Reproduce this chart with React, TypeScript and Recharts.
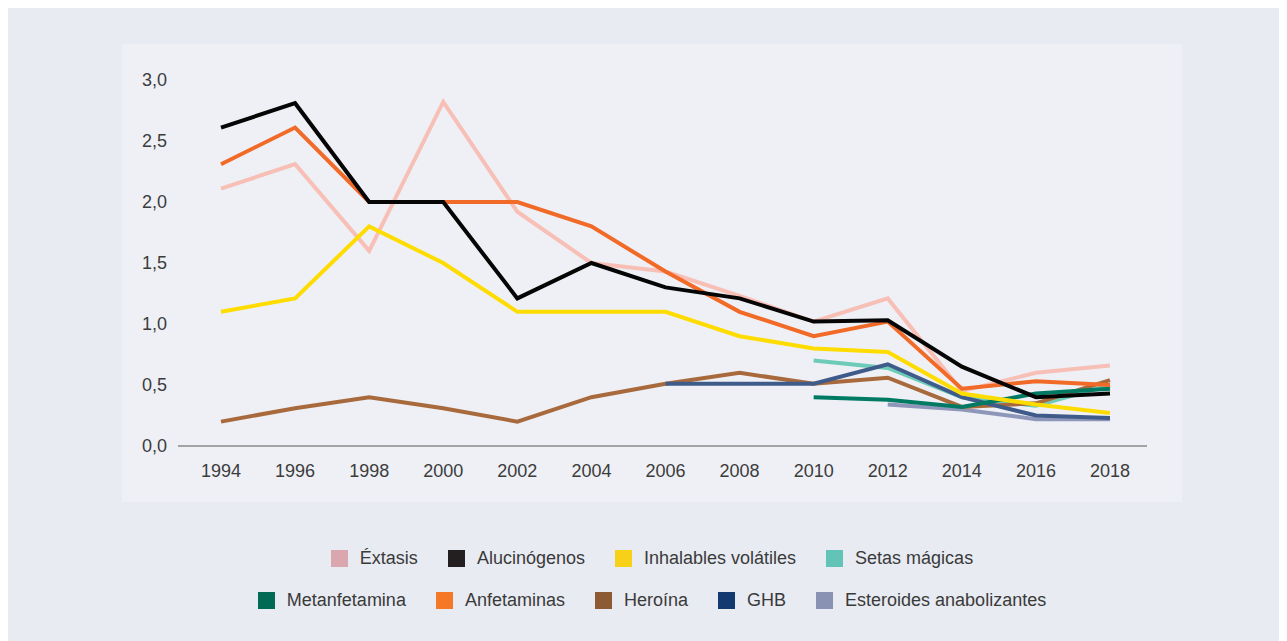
import { LineChart, Line, XAxis, YAxis } from "recharts";

const years = ["1994", "1996", "1998", "2000", "2002", "2004", "2006", "2008", "2010", "2012", "2014", "2016", "2018"];

// valores por sustancia (null = sin dato)
const extasis = [2.11, 2.31, 1.6, 2.82, 1.92, 1.5, 1.43, 1.23, 1.02, 1.21, 0.45, 0.6, 0.66];
const alucinogenos = [2.61, 2.81, 2.0, 2.0, 1.21, 1.5, 1.3, 1.21, 1.02, 1.03, 0.65, 0.4, 0.43];
const inhalables = [1.1, 1.21, 1.8, 1.5, 1.1, 1.1, 1.1, 0.9, 0.8, 0.77, 0.43, 0.34, 0.27];
const setas = [null, null, null, null, null, null, null, null, 0.7, 0.64, 0.4, 0.33, 0.5];
const metanfetamina = [null, null, null, null, null, null, null, null, 0.4, 0.38, 0.32, 0.43, 0.47];
const anfetaminas = [2.31, 2.61, 2.0, 2.0, 2.0, 1.8, 1.43, 1.1, 0.9, 1.02, 0.47, 0.53, 0.5];
const heroina = [0.2, 0.31, 0.4, 0.31, 0.2, 0.4, 0.51, 0.6, 0.51, 0.56, 0.32, 0.35, 0.54];
const ghb = [null, null, null, null, null, null, 0.51, 0.51, 0.51, 0.67, 0.4, 0.25, 0.23];
const esteroides = [null, null, null, null, null, null, null, null, null, 0.34, 0.3, 0.22, 0.22];

const yTicks = [0, 0.5, 1, 1.5, 2, 2.5, 3];

const series = [
  { key: "esteroides", name: "Esteroides anabolizantes", values: esteroides, line: "#8e97ba", swatch: "#8a92b4" },
  { key: "setas", name: "Setas mágicas", values: setas, line: "#6ecbb8", swatch: "#62c3b7" },
  { key: "heroina", name: "Heroína", values: heroina, line: "#a86a3c", swatch: "#8d5b33" },
  { key: "ghb", name: "GHB", values: ghb, line: "#3f5b8a", swatch: "#123a6e" },
  { key: "metanfetamina", name: "Metanfetamina", values: metanfetamina, line: "#007a63", swatch: "#006a55" },
  { key: "extasis", name: "Éxtasis", values: extasis, line: "#f8bfb6", swatch: "#d9a7ad" },
  { key: "inhalables", name: "Inhalables volátiles", values: inhalables, line: "#ffdc00", swatch: "#f7d117" },
  { key: "anfetaminas", name: "Anfetaminas", values: anfetaminas, line: "#f26a28", swatch: "#f47826" },
  { key: "alucinogenos", name: "Alucinógenos", values: alucinogenos, line: "#050505", swatch: "#231f20" },
];

const legendRows = [
  ["extasis", "alucinogenos", "inhalables", "setas"],
  ["metanfetamina", "anfetaminas", "heroina", "ghb", "esteroides"],
];

const data = years.map((year, i) => {
  const row: Record<string, string | number | null> = { year };
  series.forEach((s) => {
    row[s.key] = s.values[i];
  });
  return row;
});

const font = "'Liberation Sans', Arial, sans-serif";

export default function App() {
  return (
    <div
      style={{
        position: "relative",
        width: 1279,
        height: 633,
        background: "#e8ebf2",
        fontFamily: font,
      }}
    >
      <div
        style={{
          position: "absolute",
          left: 114,
          top: 36,
          width: 1060,
          height: 458,
          background: "#eef0f5",
        }}
      >
        <LineChart
          width={1060}
          height={458}
          data={data}
          margin={{ top: 36, right: 35, left: 0, bottom: 0 }}
        >
          <XAxis
            dataKey="year"
            height={56}
            padding={{ left: 43, right: 37 }}
            tickLine={false}
            tickMargin={12}
            axisLine={{ stroke: "#a3a3a3", strokeWidth: 2 }}
            tick={{ fill: "#3c3c3c", fontSize: 18, fontFamily: font }}
            interval={0}
          />
          <YAxis
            width={56}
            domain={[0, 3]}
            ticks={yTicks}
            axisLine={false}
            tickLine={false}
            tickMargin={5}
            tickFormatter={(v: number) => v.toFixed(1).replace(".", ",")}
            tick={{ fill: "#3c3c3c", fontSize: 18, fontFamily: font }}
          />
          {series.map((s) => (
            <Line
              key={s.key}
              dataKey={s.key}
              name={s.name}
              type="linear"
              stroke={s.line}
              strokeWidth={4}
              dot={false}
              activeDot={false}
              isAnimationActive={false}
            />
          ))}
        </LineChart>
      </div>
      {legendRows.map((row, r) => (
        <div
          key={r}
          style={{
            position: "absolute",
            left: 114,
            width: 1060,
            top: 540 + r * 42,
            height: 20,
            display: "flex",
            justifyContent: "center",
            alignItems: "center",
            gap: 30,
          }}
        >
          {row.map((k) => {
            const s = series.find((x) => x.key === k)!;
            return (
              <div key={k} style={{ display: "flex", alignItems: "center" }}>
                <span
                  style={{
                    display: "inline-block",
                    width: 17,
                    height: 17,
                    background: s.swatch,
                    marginRight: 12,
                  }}
                />
                <span style={{ fontSize: 18, color: "#3a3a3a" }}>{s.name}</span>
              </div>
            );
          })}
        </div>
      ))}
    </div>
  );
}
